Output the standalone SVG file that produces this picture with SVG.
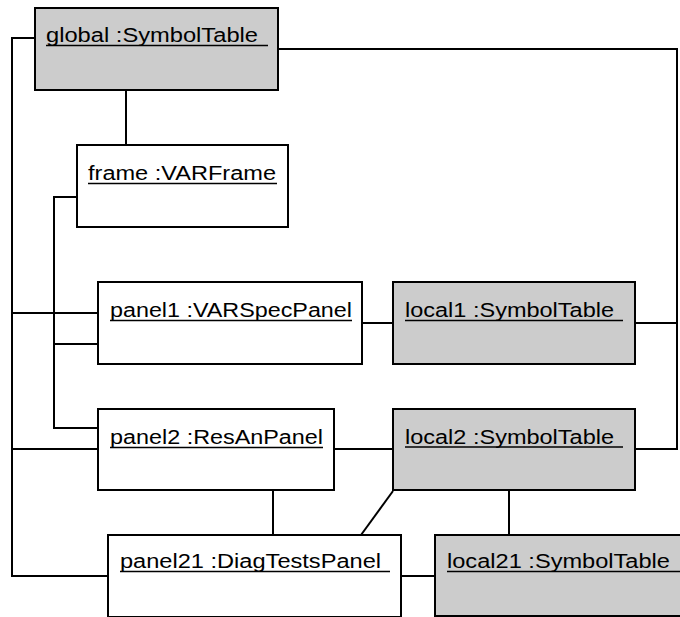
<svg xmlns="http://www.w3.org/2000/svg" width="680" height="617" viewBox="0 0 680 617">
<style>
.box{fill:#fff;stroke:#000;stroke-width:2}
.st{fill:#cccccc;stroke:#000;stroke-width:2}
.t{font-family:"Liberation Sans",Arial,sans-serif;font-size:19.5px;fill:#000}
.u{stroke:#000;stroke-width:1.5}
.c{fill:none;stroke:#000;stroke-width:2}
</style>
<rect width="680" height="617" fill="#fff"/>
<g id="connectors">
<polyline class="c" points="126,90 126,145"/>
<polyline class="c" points="35,38 12,38 12,576 108,576"/>
<polyline class="c" points="12,313 98,313"/>
<polyline class="c" points="12,449 98,449"/>
<polyline class="c" points="77,197 54,197 54,428 98,428"/>
<polyline class="c" points="54,344 98,344"/>
<polyline class="c" points="278,49 677,49 677,449 635,449"/>
<polyline class="c" points="635,323 677,323"/>
<polyline class="c" points="362,323 393,323"/>
<polyline class="c" points="334,449 393,449"/>
<polyline class="c" points="273,490 273,535"/>
<polyline class="c" points="393,491 361,535"/>
<polyline class="c" points="509,490 509,535"/>
<polyline class="c" points="401,576 435,576"/>
</g>
<g id="global">
<rect class="st" x="35" y="8" width="243" height="82"/>
<text class="t" x="46" y="42" textLength="212" lengthAdjust="spacingAndGlyphs">global :SymbolTable</text>
<line class="u" x1="46" y1="45.5" x2="268" y2="45.5"/>
</g>
<g id="frame">
<rect class="box" x="77" y="145" width="211" height="82"/>
<text class="t" x="88" y="180" textLength="188" lengthAdjust="spacingAndGlyphs">frame :VARFrame</text>
<line class="u" x1="88" y1="183.5" x2="277" y2="183.5"/>
</g>
<g id="panel1">
<rect class="box" x="98" y="282" width="264" height="82"/>
<text class="t" x="110" y="317" textLength="242" lengthAdjust="spacingAndGlyphs">panel1 :VARSpecPanel</text>
<line class="u" x1="110" y1="320.5" x2="352" y2="320.5"/>
</g>
<g id="local1">
<rect class="st" x="393" y="282" width="242" height="82"/>
<text class="t" x="405" y="317" textLength="209" lengthAdjust="spacingAndGlyphs">local1 :SymbolTable</text>
<line class="u" x1="405" y1="320.5" x2="623" y2="320.5"/>
</g>
<g id="panel2">
<rect class="box" x="98" y="409" width="236" height="81"/>
<text class="t" x="110" y="444" textLength="213" lengthAdjust="spacingAndGlyphs">panel2 :ResAnPanel</text>
<line class="u" x1="110" y1="447.5" x2="323" y2="447.5"/>
</g>
<g id="local2">
<rect class="st" x="393" y="409" width="242" height="81"/>
<text class="t" x="405" y="443.5" textLength="209" lengthAdjust="spacingAndGlyphs">local2 :SymbolTable</text>
<line class="u" x1="405" y1="447" x2="623" y2="447"/>
</g>
<g id="panel21">
<rect class="box" x="108" y="535" width="293" height="82"/>
<text class="t" x="120" y="568" textLength="261" lengthAdjust="spacingAndGlyphs">panel21 :DiagTestsPanel</text>
<line class="u" x1="120" y1="571.5" x2="390" y2="571.5"/>
</g>
<g id="local21">
<rect class="st" x="435" y="535" width="260" height="81"/>
<text class="t" x="447" y="568" textLength="223" lengthAdjust="spacingAndGlyphs">local21 :SymbolTable</text>
<line class="u" x1="447" y1="571.5" x2="690" y2="571.5"/>
</g>
</svg>
